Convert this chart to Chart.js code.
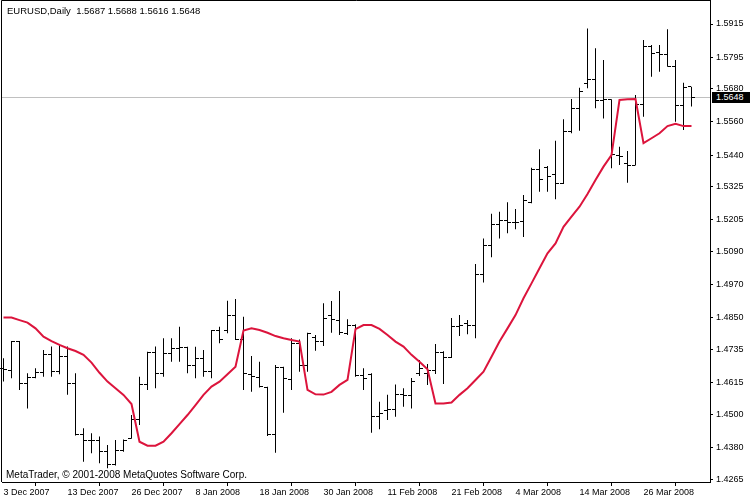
<!DOCTYPE html>
<html>
<head>
<meta charset="utf-8">
<title>EURUSD,Daily</title>
<script src="https://cdn.jsdelivr.net/npm/chart.js@4.4.1/dist/chart.umd.min.js"></script>
<style>
  html, body { margin: 0; padding: 0; background: #fff; }
  #wrap { position: relative; width: 750px; height: 500px; }
  canvas { display: block; }
  .txt { position: absolute; font-family: "Liberation Sans", Arial, sans-serif; font-size: 9px; line-height: 11px; color: #000; white-space: pre; }
  #last { background: #000; color: #fff; padding-left: 4px; width: 34px; height: 11px; line-height: 11px; }
</style>
</head>
<body>
<div id="wrap">
  <canvas id="chart" width="750" height="500"></canvas>
  <div class="txt" id="hdr" style="left:7px; top:5px; font-size:9.5px;"></div>
  <div class="txt" style="left:6px; top:469px; font-size:10px;">MetaTrader, © 2001-2008 MetaQuotes Software Corp.</div>
  <div class="txt" id="last" style="left:712px; top:92px;"></div>
</div>
<script>
var symbol = "EURUSD,Daily";

var dates = [
  "3 Dec 2007", "4 Dec 2007", "5 Dec 2007", "6 Dec 2007", "7 Dec 2007", "10 Dec 2007", "11 Dec 2007", "12 Dec 2007",
  "13 Dec 2007", "14 Dec 2007", "17 Dec 2007", "18 Dec 2007", "19 Dec 2007", "20 Dec 2007", "21 Dec 2007", "24 Dec 2007",
  "26 Dec 2007", "27 Dec 2007", "28 Dec 2007", "31 Dec 2007", "2 Jan 2008", "3 Jan 2008", "4 Jan 2008", "7 Jan 2008",
  "8 Jan 2008", "9 Jan 2008", "10 Jan 2008", "11 Jan 2008", "14 Jan 2008", "15 Jan 2008", "16 Jan 2008", "17 Jan 2008",
  "18 Jan 2008", "21 Jan 2008", "22 Jan 2008", "23 Jan 2008", "24 Jan 2008", "25 Jan 2008", "28 Jan 2008", "29 Jan 2008",
  "30 Jan 2008", "31 Jan 2008", "1 Feb 2008", "4 Feb 2008", "5 Feb 2008", "6 Feb 2008", "7 Feb 2008", "8 Feb 2008",
  "11 Feb 2008", "12 Feb 2008", "13 Feb 2008", "14 Feb 2008", "15 Feb 2008", "18 Feb 2008", "19 Feb 2008", "20 Feb 2008",
  "21 Feb 2008", "22 Feb 2008", "25 Feb 2008", "26 Feb 2008", "27 Feb 2008", "28 Feb 2008", "29 Feb 2008", "3 Mar 2008",
  "4 Mar 2008", "5 Mar 2008", "6 Mar 2008", "7 Mar 2008", "10 Mar 2008", "11 Mar 2008", "12 Mar 2008", "13 Mar 2008",
  "14 Mar 2008", "17 Mar 2008", "18 Mar 2008", "19 Mar 2008", "20 Mar 2008", "21 Mar 2008", "24 Mar 2008", "25 Mar 2008",
  "26 Mar 2008", "27 Mar 2008", "28 Mar 2008", "31 Mar 2008", "1 Apr 2008", "2 Apr 2008", "3 Apr 2008"
];

var open = [
  1.4668, 1.4661, 1.4764, 1.4613, 1.4633, 1.4651, 1.4719, 1.4655, 1.4709, 1.4613,
  1.4428, 1.4407, 1.4407, 1.4365, 1.4317, 1.4371, 1.4414, 1.4480, 1.4607, 1.4725,
  1.4649, 1.4722, 1.4740, 1.4742, 1.4679, 1.4704, 1.4655, 1.4804, 1.4806, 1.4860,
  1.4772, 1.4643, 1.4635, 1.4598, 1.4426, 1.4671, 1.4627, 1.4758, 1.4676, 1.4780,
  1.4764, 1.4857, 1.4842, 1.4794, 1.4824, 1.4640, 1.4643, 1.4492, 1.4516, 1.4518,
  1.4571, 1.4567, 1.4649, 1.4649, 1.4658, 1.4726, 1.4708, 1.4818, 1.4828, 1.4824,
  1.5008, 1.5114, 1.5187, 1.5202, 1.5195, 1.5198, 1.5267, 1.5386, 1.5396, 1.5368,
  1.5338, 1.5527, 1.5610, 1.5700, 1.5715, 1.5636, 1.5640, 1.5440, 1.5410, 1.5404,
  1.5624, 1.5833, 1.5811, 1.5803, 1.5762, 1.5619, 1.5687
];
var high = [
  1.4704, 1.4766, 1.4766, 1.4649, 1.4667, 1.4734, 1.4746, 1.4752, 1.4746, 1.4649,
  1.4450, 1.4432, 1.4420, 1.4389, 1.4407, 1.4409, 1.4498, 1.4637, 1.4727, 1.4746,
  1.4776, 1.4776, 1.4818, 1.4745, 1.4745, 1.4734, 1.4806, 1.4818, 1.4912, 1.4918,
  1.4854, 1.4712, 1.4691, 1.4600, 1.4679, 1.4673, 1.4776, 1.4772, 1.4796, 1.4788,
  1.4903, 1.4911, 1.4947, 1.4845, 1.4827, 1.4667, 1.4649, 1.4546, 1.4571, 1.4609,
  1.4595, 1.4632, 1.4697, 1.4683, 1.4755, 1.4729, 1.4850, 1.4860, 1.4842, 1.5045,
  1.5138, 1.5227, 1.5235, 1.5269, 1.5245, 1.5295, 1.5394, 1.5461, 1.5400, 1.5492,
  1.5570, 1.5643, 1.5684, 1.5899, 1.5827, 1.5785, 1.5642, 1.5470, 1.5455, 1.5658,
  1.5857, 1.5839, 1.5839, 1.5896, 1.5785, 1.5702, 1.5688
];
var low = [
  1.4619, 1.4631, 1.4589, 1.4522, 1.4631, 1.4637, 1.4637, 1.4646, 1.4571, 1.4424,
  1.4329, 1.4359, 1.4323, 1.4305, 1.4315, 1.4365, 1.4412, 1.4462, 1.4589, 1.4595,
  1.4637, 1.4691, 1.4691, 1.4649, 1.4631, 1.4637, 1.4631, 1.4758, 1.4794, 1.4770,
  1.4589, 1.4582, 1.4598, 1.4422, 1.4361, 1.4506, 1.4589, 1.4655, 1.4655, 1.4731,
  1.4748, 1.4796, 1.4788, 1.4788, 1.4637, 1.4589, 1.4434, 1.4446, 1.4480, 1.4492,
  1.4528, 1.4522, 1.4639, 1.4607, 1.4647, 1.4610, 1.4705, 1.4784, 1.4791, 1.4776,
  1.4978, 1.5070, 1.5138, 1.5157, 1.5171, 1.5143, 1.5265, 1.5307, 1.5307, 1.5280,
  1.5335, 1.5519, 1.5528, 1.5682, 1.5610, 1.5573, 1.5392, 1.5404, 1.5340, 1.5402,
  1.5579, 1.5724, 1.5742, 1.5760, 1.5561, 1.5531, 1.5616
];
var close = [
  1.4664, 1.4764, 1.4613, 1.4633, 1.4651, 1.4719, 1.4655, 1.4709, 1.4613, 1.4428,
  1.4407, 1.4407, 1.4365, 1.4317, 1.4371, 1.4407, 1.4480, 1.4607, 1.4725, 1.4649,
  1.4722, 1.4740, 1.4742, 1.4679, 1.4704, 1.4655, 1.4804, 1.4772, 1.4860, 1.4772,
  1.4649, 1.4637, 1.4601, 1.4426, 1.4671, 1.4629, 1.4758, 1.4676, 1.4794, 1.4764,
  1.4849, 1.4845, 1.4796, 1.4824, 1.4640, 1.4632, 1.4492, 1.4504, 1.4518, 1.4571,
  1.4567, 1.4618, 1.4665, 1.4658, 1.4726, 1.4708, 1.4818, 1.4822, 1.4824, 1.5008,
  1.5114, 1.5187, 1.5202, 1.5195, 1.5196, 1.5274, 1.5386, 1.5353, 1.5362, 1.5338,
  1.5527, 1.5610, 1.5670, 1.5715, 1.5636, 1.5640, 1.5443, 1.5434, 1.5404, 1.5624,
  1.5833, 1.5809, 1.5803, 1.5762, 1.5619, 1.5684, 1.5648
];

// red indicator line
var indicator = [
  1.4851, 1.4851, 1.4842, 1.4833, 1.4812, 1.4782, 1.4766, 1.4752, 1.4740, 1.4730,
  1.4716, 1.4688, 1.4651, 1.4619, 1.4595, 1.4571, 1.4538, 1.4401, 1.4387, 1.4387,
  1.4401, 1.4432, 1.4465, 1.4498, 1.4534, 1.4571, 1.4601, 1.4619, 1.4646, 1.4673,
  1.4804, 1.4812, 1.4806, 1.4796, 1.4784, 1.4776, 1.4770, 1.4764, 1.4589, 1.4573,
  1.4572, 1.4582, 1.4607, 1.4625, 1.4809, 1.4824, 1.4824, 1.4810, 1.4788, 1.4764,
  1.4746, 1.4716, 1.4691, 1.4664, 1.4540, 1.4540, 1.4543, 1.4571, 1.4595, 1.4625,
  1.4655, 1.4709, 1.4764, 1.4812, 1.4860, 1.4921, 1.4975, 1.5030, 1.5084, 1.5120,
  1.5180, 1.5217, 1.5253, 1.5299, 1.5350, 1.5398, 1.5440, 1.5640, 1.5642, 1.5643,
  1.5483, 1.5501, 1.5519, 1.5545, 1.5553, 1.5545, 1.5545
];

var yTickValues = [1.5915, 1.5795, 1.5680, 1.5560, 1.5440, 1.5325, 1.5205, 1.5090,
                   1.4970, 1.4850, 1.4735, 1.4615, 1.4500, 1.4380, 1.4265];
var xTickIndex = [0, 8, 16, 24, 32, 40, 48, 56, 64, 72, 80];

var last = close.length - 1;
document.getElementById("hdr").textContent = symbol + "  " +
  [open[last], high[last], low[last], close[last]].map(function (v) { return v.toFixed(4); }).join(" ");

var hlData = dates.map(function (d, i) { return { x: i, y: [low[i], high[i]] }; });
var lineData = indicator.map(function (v, i) { return { x: i, y: v }; });

var font9 = { family: "'Liberation Sans', Arial, sans-serif", size: 9 };

// open/close ticks, price line and frame
var barTicks = {
  id: "barTicks",
  beforeDatasetsDraw: function (chart) {
    var ctx = chart.ctx, a = chart.chartArea;
    var py = Math.round(chart.scales.y.getPixelForValue(close[last]) - 0.5) + 0.5;
    ctx.save();
    ctx.strokeStyle = "#c0c0c0";
    ctx.lineWidth = 1;
    ctx.beginPath();
    ctx.moveTo(a.left, py);
    ctx.lineTo(a.right, py);
    ctx.stroke();
    ctx.restore();
  },
  afterDatasetDraw: function (chart, args) {
    if (args.meta.type !== "bar") return;
    var ctx = chart.ctx, x = chart.scales.x, y = chart.scales.y;
    ctx.save();
    ctx.fillStyle = "#000";
    for (var i = 0; i < dates.length; i++) {
      var px = Math.round(x.getPixelForValue(i) - 0.5);
      var yo = Math.round(y.getPixelForValue(open[i]) - 0.5);
      var yc = Math.round(y.getPixelForValue(close[i]) - 0.5);
      ctx.fillRect(px - 3, yo, 3, 1);
      ctx.fillRect(px + 1, yc, 3, 1);
    }
    ctx.restore();
  },
  afterDraw: function (chart) {
    var ctx = chart.ctx, a = chart.chartArea;
    ctx.save();
    ctx.strokeStyle = "#000";
    ctx.lineWidth = 1;
    ctx.beginPath();
    ctx.moveTo(a.left - 0.5, a.bottom);
    ctx.lineTo(a.left - 0.5, a.top - 0.5);
    ctx.lineTo(a.right + 1, a.top - 0.5);
    ctx.stroke();
    ctx.restore();
  }
};

var chart = new Chart(document.getElementById("chart").getContext("2d"), {
  type: "bar",
  data: {
    datasets: [
      {
        type: "line",
        data: lineData,
        borderColor: "#dc143c",
        borderWidth: 2,
        pointRadius: 0,
        tension: 0,
        fill: false,
        order: 0
      },
      {
        type: "bar",
        data: hlData,
        backgroundColor: "#000",
        borderWidth: 0,
        barThickness: 1,
        inflateAmount: 0,
        order: 1
      }
    ]
  },
  options: {
    responsive: false,
    animation: false,
    devicePixelRatio: 1,
    layout: { padding: { left: 2, top: 1, right: 0, bottom: 0 } },
    plugins: { legend: { display: false }, tooltip: { enabled: false } },
    scales: {
      x: {
        type: "linear",
        offset: false,
        min: -0.1875,
        max: 88.3125,
        afterBuildTicks: function (scale) {
          scale.ticks = xTickIndex.map(function (v) { return { value: v }; });
        },
        afterFit: function (scale) {
          scale.height = 18;
          scale.paddingLeft = 0;
          scale.paddingRight = 0;
        },
        ticks: {
          autoSkip: false,
          maxRotation: 0,
          align: "start",
          padding: 1,
          color: "#000",
          font: font9,
          callback: function (v) { return dates[v]; }
        },
        grid: { drawOnChartArea: false, drawTicks: true, tickLength: 4, color: "#000" },
        border: { display: true, color: "#000" }
      },
      y: {
        position: "right",
        min: 1.42552,
        max: 1.59984,
        afterBuildTicks: function (scale) {
          scale.ticks = yTickValues.map(function (v) { return { value: v }; });
        },
        afterFit: function (scale) {
          scale.width = 40;
          scale.paddingTop = 0;
          scale.paddingBottom = 0;
        },
        ticks: {
          padding: 3,
          color: "#000",
          font: font9,
          callback: function (v) { return v.toFixed(4); }
        },
        grid: { drawOnChartArea: false, drawTicks: true, tickLength: 3, color: "#000" },
        border: { display: true, color: "#000" }
      }
    }
  },
  plugins: [barTicks]
});

// last price box on the price axis
var lastBox = document.getElementById("last");
lastBox.textContent = close[last].toFixed(4);
lastBox.style.top = Math.round(chart.scales.y.getPixelForValue(close[last]) - 6) + "px";
</script>
</body>
</html>
